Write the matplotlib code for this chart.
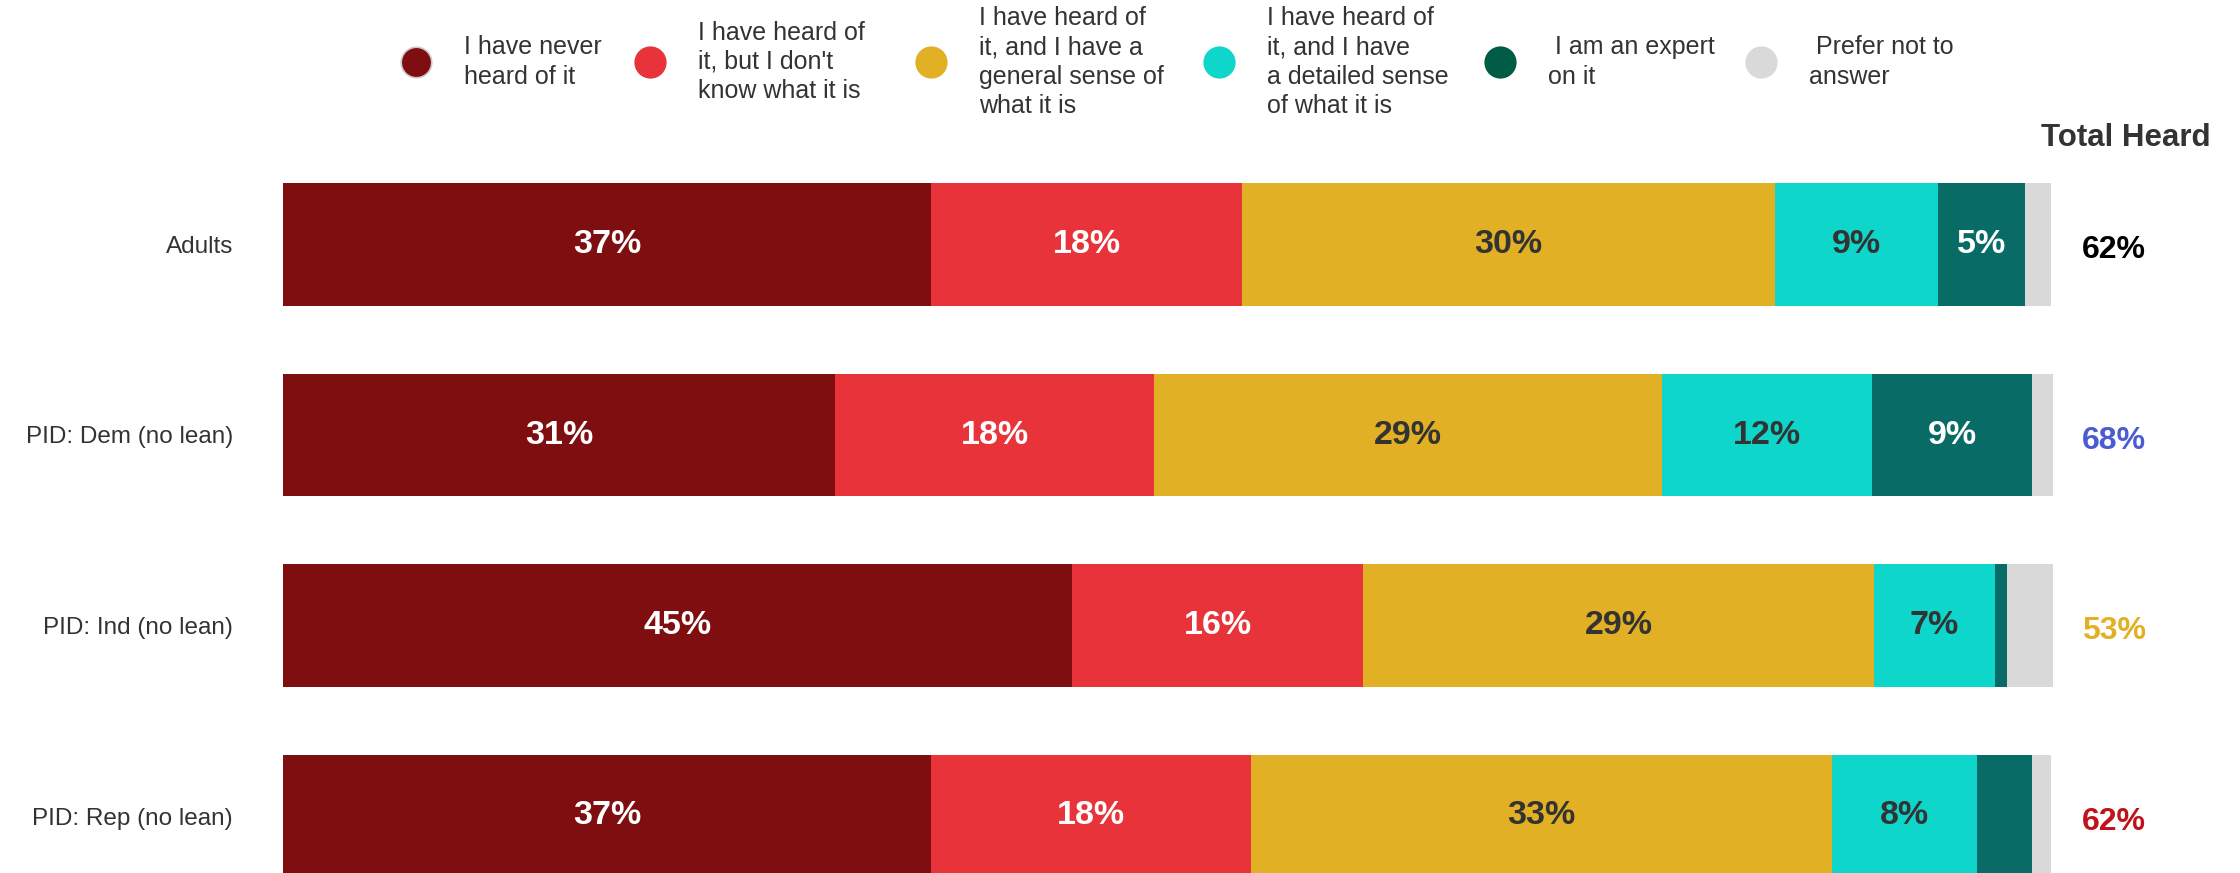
import matplotlib.pyplot as plt
import numpy as np

groups = ['Adults', 'PID: Dem (no lean)', 'PID: Ind (no lean)', 'PID: Rep (no lean)']

categories = ['I have never\nheard of it',
              "I have heard of\nit, but I don't\nknow what it is",
              'I have heard of\nit, and I have a\ngeneral sense of\nwhat it is',
              'I have heard of\nit, and I have\na detailed sense\nof what it is',
              ' I am an expert\non it',
              ' Prefer not to\nanswer']

# share of each answer per group (%)
never = [36.6, 31.2, 44.6, 36.6]
heard_no_idea = [17.6, 18.0, 16.4, 18.1]
general = [30.1, 28.7, 28.9, 32.8]
detailed = [9.2, 11.9, 6.8, 8.2]
expert = [4.9, 9.0, 0.7, 3.1]
no_answer = [1.5, 1.2, 2.6, 1.1]

series = [never, heard_no_idea, general, detailed, expert, no_answer]

bar_colors = ['#7f0e11', '#e8333a', '#e1b024', '#0fd6cb', '#086b66', '#d9d9d9']
legend_colors = ['#7f0e11', '#e8333a', '#e1b024', '#0fd6cb', '#005c45', '#d9d9d9']
text_colors = ['white', 'white', '#333333', '#333333', 'white', None]
total_colors = ['#000000', '#4a5bd4', '#e1b024', '#c1121c']

plt.rcParams['font.family'] = ['Liberation Sans', 'DejaVu Sans']

W, H = 2240, 873
fig = plt.figure(figsize=(W / 100, H / 100), dpi=100)

# bar axes: x 283..2053 px, rows 190.5 px apart, first row centred at 244.5 px
ax = fig.add_axes([283 / W, 0, 1770 / W, 1])
pitch = 190.5
top = -244.5 / pitch
ax.set_ylim(top + H / pitch, top)
ax.set_xlim(0, 100)

y = np.arange(len(groups))
left = np.zeros(len(groups))
for vals, col, tcol in zip(series, bar_colors, text_colors):
    vals = np.array(vals)
    ax.barh(y, vals, left=left, height=0.645, color=col, linewidth=0)
    if tcol is not None:
        for yi, (l, v) in enumerate(zip(left, vals)):
            if v >= 4:
                ax.text(l + v / 2, yi, '%d%%' % round(v), ha='center', va='center',
                        fontsize=24.5, fontweight='bold', color=tcol)
    left += vals

for yi in y:
    ax.plot([100.15, 100.15], [yi - 0.3225, yi + 0.3225], color='#e4e4e4', linewidth=1.2)

# total heard = everything except "never" and "no answer"
total = np.array(heard_no_idea) + np.array(general) + np.array(detailed) + np.array(expert)
for yi, (t, c) in enumerate(zip(total, total_colors)):
    ax.text(103.45, yi + 0.03, '%d%%' % round(t), ha='center', va='center',
            fontsize=23, fontweight='bold', color=c, clip_on=False)
ax.text(104.1, -0.56, 'Total Heard', ha='center', va='center', fontsize=22.5,
        fontweight='bold', color='#333333', clip_on=False)

ax.set_yticks(y)
ax.set_yticklabels(groups, fontsize=17.5, color='#333333')
ax.tick_params(axis='y', length=0, pad=36)
ax.set_xticks([])
for s in ax.spines.values():
    s.set_visible(False)

# legend across the top (circle centres in px)
legend_x = [416, 650, 931, 1219, 1500, 1761]
ly = 1 - 62 / H
for cat, col, x in zip(categories, legend_colors, legend_x):
    edge = '#cccccc' if col == '#7f0e11' else col
    fig.add_artist(plt.Line2D([x / W], [ly], marker='o', markersize=22,
                              markerfacecolor=col, markeredgecolor=edge,
                              markeredgewidth=1.2, linestyle='none'))
    fig.text((x + 48) / W, ly, cat, ha='left', va='center', fontsize=18,
             color='#333333', linespacing=1.27)

fig.savefig('out.png', dpi=100)
